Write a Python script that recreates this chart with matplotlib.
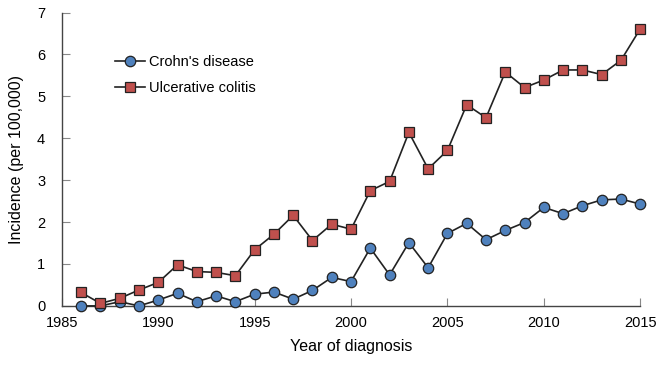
import matplotlib
matplotlib.use('Agg')
import matplotlib.pyplot as plt

years = list(range(1986, 2016))
crohns = [0.0, 0.0, 0.1, 0.0, 0.14, 0.30, 0.10, 0.24, 0.10, 0.28,
          0.33, 0.16, 0.37, 0.68, 0.58, 1.38, 0.74, 1.51, 0.91, 1.73,
          1.97, 1.58, 1.80, 1.99, 2.35, 2.20, 2.39, 2.53, 2.55, 2.43]
uc = [0.32, 0.06, 0.18, 0.38, 0.56, 0.98, 0.82, 0.80, 0.72, 1.34,
      1.71, 2.16, 1.56, 1.95, 1.83, 2.75, 2.97, 4.14, 3.27, 3.71,
      4.80, 4.49, 5.58, 5.21, 5.39, 5.63, 5.63, 5.52, 5.86, 6.61]
xticks = [1985, 1990, 1995, 2000, 2005, 2010, 2015]
yticks = list(range(0, 8))

plt.rcParams['font.family'] = ['Liberation Sans', 'DejaVu Sans']

fig = plt.figure(figsize=(6.58, 3.69), dpi=100)
ax = fig.add_axes([0.094, 0.171, 0.879, 0.795])

ax.plot(years, crohns, color='#222222', lw=1.2, marker='o', markersize=7.5,
        markerfacecolor='#4f81bd', markeredgecolor='#222222', markeredgewidth=0.9,
        label="Crohn's disease", clip_on=False, zorder=3)
ax.plot(years, uc, color='#222222', lw=1.2, marker='s', markersize=7.5,
        markerfacecolor='#c0504d', markeredgecolor='#222222', markeredgewidth=0.9,
        label='Ulcerative colitis', clip_on=False, zorder=3)

ax.set_xlim(1985, 2015)
ax.set_ylim(0, 7)
ax.set_xticks(xticks)
ax.set_yticks(yticks)
ax.tick_params(axis='x', direction='in', length=6, color='#888888', labelsize=10.5, pad=7)
ax.tick_params(axis='y', direction='in', length=6, color='#888888', labelsize=10.5, pad=12)
for s in ['top', 'right']:
    ax.spines[s].set_visible(False)
for s in ['left', 'bottom']:
    ax.spines[s].set_color('#444444')
    ax.spines[s].set_linewidth(1.0)

ax.set_xlabel('Year of diagnosis', fontsize=11.5, labelpad=7)
ax.set_ylabel('Incidence (per 100,000)', fontsize=11.5, labelpad=9)

ax.legend(loc='upper left', bbox_to_anchor=(0.07, 0.9), frameon=False,
          fontsize=10.5, handlelength=2.0, labelspacing=0.8, handletextpad=0.3)

fig.savefig('out.png', dpi=100)
